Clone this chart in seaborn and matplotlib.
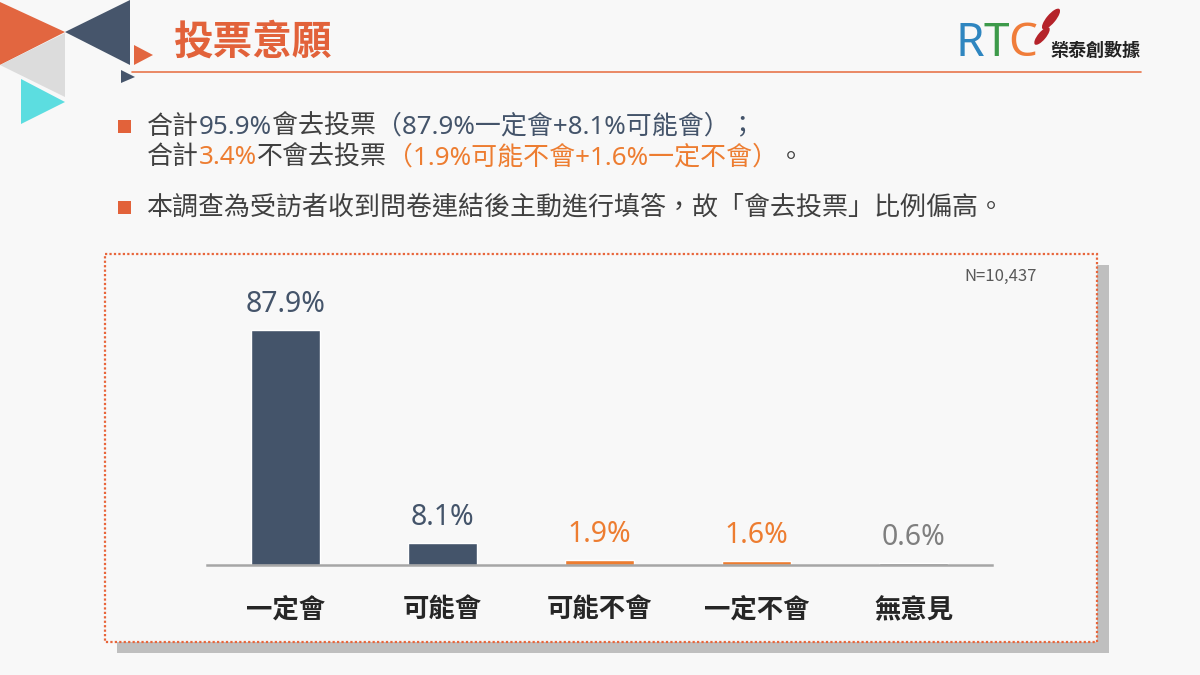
import numpy as np
import pandas as pd
import matplotlib
matplotlib.use("Agg")
import matplotlib.pyplot as plt
from matplotlib.patches import Polygon, Rectangle, Ellipse
import seaborn as sns

# data
categories = ["一定會", "可能會", "可能不會", "一定不會", "無意見"]
values = [87.9, 8.1, 1.9, 1.6, 0.6]
bar_colors = ["#44546a", "#44546a", "#ed7d31", "#ed7d31", "#7f7f7f"]
value_labels = ["87.9%", "8.1%", "1.9%", "1.6%", "0.6%"]
sample_note = "N=10,437"
title = "投票意願"

DARK = "#404040"
NAVY = "#44546a"
ORANGE = "#ed7d31"
RED_OR = "#e2623a"
BG = "#f8f8f8"

line1 = [("合計", DARK), ("95.9%", NAVY), ("會去投票", DARK),
         ("（87.9%一定會+8.1%可能會）；", NAVY)]
line2 = [("合計", DARK), ("3.4%", ORANGE), ("不會去投票", DARK),
         ("（1.9%可能不會+1.6%一定不會）", ORANGE), ("。", DARK)]
line3 = [("本調查為受訪者收到問卷連結後主動進行填答，故「會去投票」比例偏高。", DARK)]
logo = [("R", "#2f86c0"), ("T", "#3d9a4a"), ("C", "#f07d3a")]

sns.set_theme(style="white")
plt.rcParams["font.family"] = ["Noto Sans CJK TC", "DejaVu Sans"]
MIXED = ["Noto Sans", "Noto Sans CJK TC", "DejaVu Sans"]

fig = plt.figure(figsize=(12, 6.75), dpi=100, facecolor=BG)

# background layer in pixel coordinates
bg = fig.add_axes([0, 0, 1, 1], zorder=0)
bg.set_xlim(0, 1200)
bg.set_ylim(675, 0)
bg.axis("off")
bg.set_facecolor(BG)

# decorative triangles
tris = [
    ([(0, 2), (65, 32), (0, 65)], "#e26640"),
    ([(0, 65), (65, 33), (65, 97)], "#dcdcdc"),
    ([(65, 32), (130, 0), (130, 65)], "#46556b"),
    ([(21, 79), (21, 124), (65, 102)], "#5cdde0"),
    ([(134, 45), (134, 65), (153, 55)], "#e26640"),
    ([(121, 70), (121, 83), (135, 77)], "#46556b"),
]
for pts, c in tris:
    bg.add_patch(Polygon(pts, closed=True, color=c, lw=0))

bg.plot([132, 1141], [72, 72], color="#e8764c", lw=1.2)
bg.text(174, 42, title, fontsize=28.5, fontweight="bold", color=RED_OR,
        va="center", ha="left")

renderer = fig.canvas.get_renderer()


def draw_runs(x, y, runs, size=18.7, squeeze=1.0, **kw):
    for s, c in runs:
        t = bg.text(x, y, s, color=c, fontsize=size, va="center", ha="left", **kw)
        x += t.get_window_extent(renderer).width * squeeze


# logo
draw_runs(956, 44, logo, size=33, squeeze=0.96, family="Noto Sans")
bg.add_patch(Ellipse((1051, 19), 9, 26, angle=40, color="#b5232a", lw=0))
bg.add_patch(Ellipse((1042, 36), 8, 22, angle=40, color="#b5232a", lw=0))
bg.text(1051, 50, "榮泰創數據", fontsize=13, color="#222222", va="center",
        ha="left", fontweight="bold")

# bullet text
for by in [120, 201]:
    bg.add_patch(Rectangle((118, by), 13, 13, color=RED_OR, lw=0))
draw_runs(147, 127, line1, family=MIXED)
draw_runs(147, 158, line2, family=MIXED)
draw_runs(147, 208, line3, family=MIXED)

# chart box with shadow
bg.add_patch(Rectangle((117, 265), 992, 388, color="#bfbfbf", lw=0))
bg.add_patch(Rectangle((105, 254), 992, 388, facecolor=BG, edgecolor="#e8653a",
                       lw=1.6, linestyle=(0, (1, 1))))
bg.text(1037, 276, sample_note, fontsize=12, color="#595959", ha="right", va="center")

# bar chart
px_per = 235 / 87.9
ax = fig.add_axes([207 / 1200, 1 - 565 / 675, 785 / 1200, (565 - 285) / 675], zorder=1)
ax.patch.set_alpha(0)
df = pd.DataFrame({"cat": categories, "val": values})
sns.barplot(data=df, x="cat", y="val", hue="cat", palette=bar_colors, width=0.44,
            saturation=1, legend=False, ax=ax)
ax.set_ylim(0, (565 - 285) / px_per)
ax.set_xlim(-0.5, len(categories) - 0.5)
for cont, lab, c in zip(ax.containers, value_labels, bar_colors):
    ax.bar_label(cont, labels=[lab], padding=8, fontsize=20.5, color=c,
                 family=["Noto Sans", "DejaVu Sans"])
for s in ["top", "left", "right"]:
    ax.spines[s].set_visible(False)
ax.spines["bottom"].set_color("#a6a6a6")
ax.spines["bottom"].set_linewidth(1.8)
ax.set_yticks([])
ax.set_xlabel("")
ax.set_ylabel("")
ax.tick_params(axis="x", length=0, pad=23, labelsize=19, labelcolor="#262626")
for lbl in ax.get_xticklabels():
    lbl.set_fontweight("bold")

fig.savefig("out.png", dpi=100, facecolor=BG)
